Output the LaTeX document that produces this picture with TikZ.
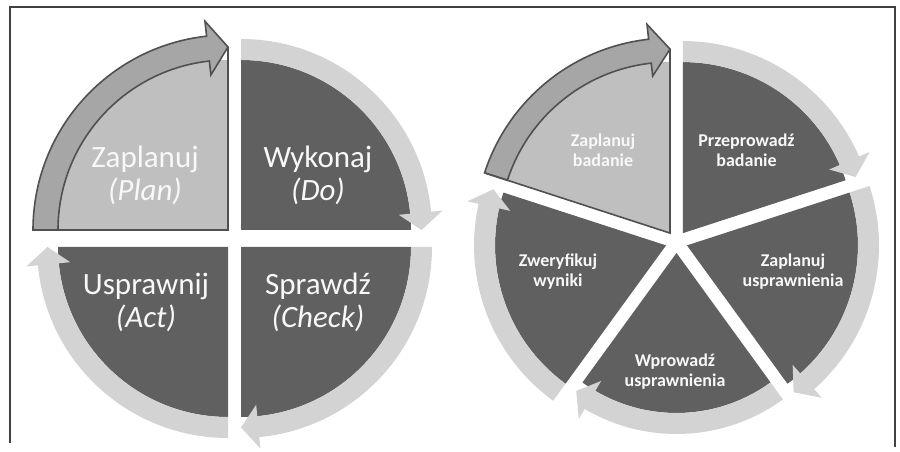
\documentclass[tikz,border=0pt]{standalone}
\usepackage{fontspec}
\setmainfont{Carlito}
\definecolor{pcdark}{RGB}{96,96,96}
\definecolor{pclight}{RGB}{211,211,211}
\definecolor{hlfill}{RGB}{191,191,191}
\definecolor{hlband}{RGB}{166,166,166}
\definecolor{hlline}{RGB}{80,80,80}
\definecolor{framecol}{RGB}{64,64,64}
\definecolor{txtcol}{RGB}{248,248,248}
% sector: a1, a2, radius (origin = vertex of the piece)
\newcommand\pcsector[3]{%
  \fill[pcdark] (0,0) -- (#1:#3) arc[start angle=#1,end angle=#2,radius=#3] -- cycle;}
% band path: a1, a2, inner r, outer r, tip r, head half width, head angle
\newcommand\pcband[7]{%
  (#1:#3) -- (#1:#4) arc[start angle=#1,end angle={#2+#7},radius=#4]
  -- ({#2+#7}:{#5+#6}) -- (#2:#5) -- ({#2+#7}:{#5-#6})
  -- ({#2+#7}:#3) arc[start angle={#2+#7},end angle=#1,radius=#3] -- cycle}
\begin{document}
\begin{tikzpicture}[x=1pt,y=1pt,
  lightband/.style={fill=pclight},
  hlshape/.style={fill=hlband,draw=hlline,line width=1.6pt,line join=miter},
  hledge/.style={draw=hlline,line width=1.6pt},
  biglbl/.style={text=txtcol,align=center,inner sep=0pt,font=\fontsize{31}{33}\selectfont},
  smalllbl/.style={text=txtcol,align=center,inner sep=0pt,font=\bfseries\fontsize{18}{20}\selectfont}]
\useasboundingbox (0,0) rectangle (900,452);
\fill[white] (0,0) rectangle (900,452);
\draw[framecol,line width=1.3pt] (10,9) -- (10,445) -- (895,445) -- (895,5);

% ---------- left diagram (PDCA) ----------
% Wykonaj
\begin{scope}[shift={(241,222)}]
  \pcsector{90}{0}{170}
  \fill[lightband] \pcband{90}{0}{170}{191}{180.5}{22}{5.5};
\end{scope}
% Sprawdz
\begin{scope}[shift={(241,205)}]
  \pcsector{0}{-90}{170}
  \fill[lightband] \pcband{0}{-90}{170}{191}{180.5}{22}{5.5};
\end{scope}
% Usprawnij
\begin{scope}[shift={(228,205)}]
  \pcsector{270}{180}{170}
  \fill[lightband] \pcband{270}{180}{170}{191}{180.5}{22}{5.5};
\end{scope}
% Zaplanuj (highlighted)
\begin{scope}[shift={(228,222)}]
  \fill[hlfill] (0,0) -- (180:170) arc[start angle=180,end angle=90,radius=170] -- cycle;
  \path[hlshape] \pcband{180}{90}{170}{195}{183}{27}{6.3};
  \path[hledge] (90:183) -- (0,0) -- (180:195);
\end{scope}

\node[biglbl] (zap) at (145,277) {Zaplanuj\\\textit{(Plan)}};
\node[biglbl] (wyk) at (318,277) {Wykonaj\\\textit{(Do)}};
\node[biglbl] (usp) at (146,150) {Usprawnij\\\textit{(Act)}};
\node[biglbl] (spr) at (318,150) {Sprawdź\\\textit{(Check)}};

% ---------- right diagram (5 steps) ----------
\begin{scope}[shift={(676.5,210)}]
  % Przeprowadz badanie
  \begin{scope}[shift={(54:11)}]
    \pcsector{90}{18}{171}
    \fill[lightband] \pcband{90}{18}{171}{192}{181.5}{22}{5.5};
  \end{scope}
  % Zaplanuj usprawnienia
  \begin{scope}[shift={(-18:11)}]
    \pcsector{18}{-54}{171}
    \fill[lightband] \pcband{18}{-54}{171}{192}{181.5}{22}{5.5};
  \end{scope}
  % Wprowadz usprawnienia
  \begin{scope}[shift={(-90:11)}]
    \pcsector{-54}{-126}{160}
    \fill[lightband] \pcband{-54}{-126}{160}{181}{170.5}{22}{5.5};
  \end{scope}
  % Zweryfikuj wyniki
  \begin{scope}[shift={(198:11)}]
    \pcsector{234}{162}{171}
    \fill[lightband] \pcband{234}{162}{171}{192}{181.5}{22}{5.5};
  \end{scope}
  % Zaplanuj badanie (highlighted)
  \begin{scope}[shift={(126:11)}]
    \fill[hlfill] (0,0) -- (162:171) arc[start angle=162,end angle=90,radius=171] -- cycle;
    \path[hlshape] \pcband{162}{90}{171}{195}{184}{26}{6.3};
    \path[hledge] (90:184) -- (0,0) -- (162:195);
  \end{scope}
\end{scope}

\node[smalllbl] (zb) at (603,302) {Zaplanuj\\badanie};
\node[smalllbl] (pb) at (746.5,302) {Przeprowadź\\badanie};
\node[smalllbl] (zu) at (793,180) {Zaplanuj\\usprawnienia};
\node[smalllbl] (wu) at (675,80) {Wprowadź\\usprawnienia};
\node[smalllbl] (zw) at (558,180) {Zweryfikuj\\wyniki};
\end{tikzpicture}
\end{document}
